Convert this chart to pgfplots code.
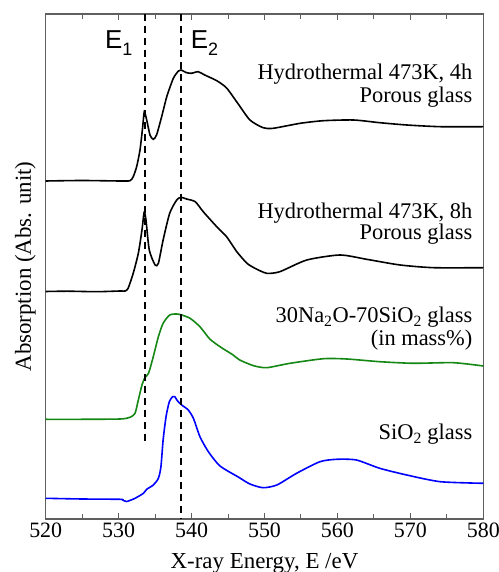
\documentclass[border=0pt]{standalone}
\usepackage{pgfplots}
\pgfplotsset{compat=1.18}
\usepackage{fontspec}
\setmainfont{Liberation Serif}
\newfontfamily\arial{Liberation Sans}
\definecolor{sgreen}{RGB}{20,135,20}
\definecolor{axgray}{RGB}{95,95,95}

\begin{document}
\begin{tikzpicture}
\begin{axis}[
    scale only axis,
    width=437.6bp, height=505bp,
    xmin=520, xmax=580,
    ymin=53, ymax=558,
    xtick={520,530,...,580},
    minor x tick num=1,
    ytick=\empty,
    tick align=inside,
    xtick pos=both,
    major tick length=6bp,
    minor tick length=5bp,
    axis line style={axgray, line width=1.2bp},
    every tick/.style={axgray, line width=1bp},
    /pgf/number format/assume math mode=true,
    xticklabel style={font=\fontsize{22}{22}\selectfont},
    clip=false,
]

% spectra (y in picture units, offset per sample)
\addplot[black, line width=1.6bp, smooth, tension=0.4] coordinates {
(520,391) (525,391.5) (530.2,391) (531.56,391.3) (532.0,395.3) (532.47,405.3)
(532.93,422) (533.3,445.3) (533.52,460.3) (533.85,452) (534.3,437) (534.75,432.7)
(535.2,437) (535.9,455.3) (536.6,475.3) (537.5,493.7) (538.2,501) (538.55,502)
(539.33,499.3) (540.0,498.7) (540.9,500.3) (541.8,497) (543.45,491.3) (544.8,484)
(546.4,468) (548.0,452) (549.8,444.3) (551.2,443.7) (554.9,448.7) (558.1,451.3)
(562.2,452) (565.8,449.3) (569.5,447) (574.1,445.3) (580,445.3)
};
\addplot[black, line width=1.6bp, smooth, tension=0.4] coordinates {
(520,280.5) (523,280.8) (527,280.3) (530.2,281) (530.9,281) (531.3,283.7)
(532.0,298.7) (532.7,318.7) (533.2,342) (533.5,359.7) (533.75,352) (534.2,322)
(535.0,307) (535.45,308.7) (536.1,332) (537.0,358.7) (537.96,372) (538.55,374.7)
(539.3,373) (540.5,370.3) (541.6,360.3) (543.45,345.3) (544.8,335.3) (546.2,320.3)
(547.6,308.7) (548.7,303.7) (550.3,298.7) (552.1,300.3) (555.8,312) (560.35,317)
(564.0,312.7) (568.6,307) (573.2,304.3) (580,304.3)
};
\addplot[sgreen, line width=1.6bp, smooth, tension=0.4] coordinates {
(520,152.7) (525,152.7) (530.2,153) (531.56,154.7) (532.25,158.7) (532.7,172)
(533.2,187) (533.6,194.3) (534.1,198.7) (534.75,215.3) (535.45,235.3) (536.1,248.7)
(537.0,257) (537.96,258) (538.65,257) (539.8,253.7) (541.15,245.3) (542.5,233)
(543.9,225.3) (545.7,217) (546.6,212) (548.5,206.3) (550.3,204.3) (553.5,208.7)
(558.1,213.3) (561.3,213) (565.8,210.3) (570.4,208.7) (575.9,209.3) (580,206)
};
\addplot[blue, line width=1.6bp, smooth, tension=0.4] coordinates {
(520,73.7) (525,73) (530.2,72.7) (530.55,72) (531.1,70.5) (532.25,73.7)
(533.4,78.7) (533.85,82.7) (534.75,87) (535.45,93.7) (535.8,105.3) (536.1,132)
(536.5,155.3) (536.95,170.3) (537.4,175.3) (537.7,175.3) (538.05,171.3) (538.65,167)
(539.55,162) (540.25,153.7) (541.15,135.3) (542.3,120.3) (543.9,106) (546.4,95)
(548.0,88) (549.8,84.3) (551.7,87) (554.4,98.7) (557.6,110.3) (559.9,112.7)
(562.6,112) (565.8,103.7) (569.5,97) (574.1,90.3) (580,88.7)
};

% E1 / E2 markers
\addplot[black, dash pattern=on 7bp off 5bp, line width=1.7bp] coordinates {(533.66,558) (533.66,130.3)};
\addplot[black, dash pattern=on 7bp off 5bp, line width=1.7bp] coordinates {(538.55,558) (538.55,53)};

\node[anchor=base west, inner sep=0pt, font=\arial\fontsize{26}{26}\selectfont]
  at (axis cs:528.13,523.7) {E\raisebox{-7bp}{\fontsize{18}{18}\selectfont 1}};
\node[anchor=base west, inner sep=0pt, font=\arial\fontsize{26}{26}\selectfont]
  at (axis cs:539.88,523.7) {E\raisebox{-7bp}{\fontsize{18}{18}\selectfont 2}};

\tikzset{lbl/.style={anchor=base east, inner sep=0pt, text depth=0.12em, text height=0.66em,
  font=\fontsize{22.5}{22.5}\selectfont}}
\node[lbl] at (axis cs:578.52,492) {Hydrothermal 473K, 4h};
\node[lbl] at (axis cs:578.52,469.5) {Porous glass};
\node[lbl] at (axis cs:578.52,353.7) {Hydrothermal 473K, 8h};
\node[lbl] at (axis cs:578.52,332.5) {Porous glass};
\node[lbl] at (axis cs:578.52,249) {30Na\textsubscript{2}O-70SiO\textsubscript{2} glass};
\node[lbl] at (axis cs:578.52,226) {(in mass\%)};
\node[lbl] at (axis cs:578.52,132) {SiO\textsubscript{2} glass};

\node[anchor=base, inner sep=0pt, font=\fontsize{23}{23}\selectfont]
  at (axis cs:550,4) {X-ray Energy, E /eV};
\node[anchor=base, rotate=90, inner sep=0pt, font=\fontsize{23}{23}\selectfont]
  at (axis cs:517.98,305.5) {Absorption (Abs. unit)};
\end{axis}
\pgfresetboundingbox
\path[use as bounding box] ([shift={(-45.7bp,-53bp)}]current axis.south west)
  rectangle ([shift={(15.7bp,14bp)}]current axis.north east);
\end{tikzpicture}
\end{document}
